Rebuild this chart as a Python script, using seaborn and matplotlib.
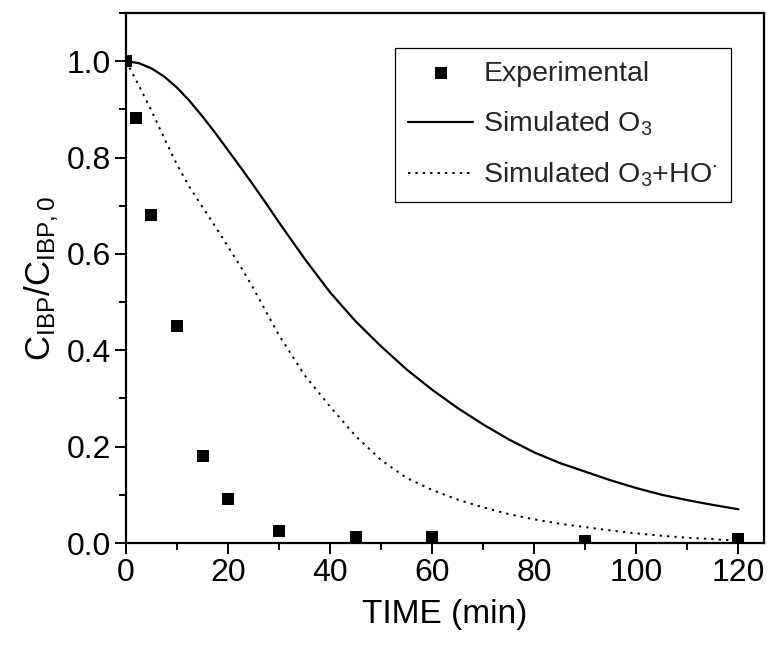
import matplotlib
matplotlib.use("Agg")
import matplotlib.pyplot as plt
from matplotlib.ticker import MultipleLocator
import seaborn as sns
import pandas as pd

# Experimental IBP decay
exp_time = [0, 2, 5, 10, 15, 20, 30, 45, 60, 90, 120]
exp_ratio = [1.0, 0.882, 0.680, 0.450, 0.181, 0.092, 0.024, 0.012, 0.012, 0.004, 0.008]

# Simulated curves
sim_time = [0, 2.5, 5, 7.5, 10, 12.5, 15, 17.5, 20, 22.5, 25, 27.5, 30, 35, 40,
            45, 50, 55, 60, 65, 70, 75, 80, 85, 90, 95, 100, 105, 110, 115, 120]
sim_o3 = [1.0, 0.996, 0.985, 0.968, 0.945, 0.917, 0.885, 0.851, 0.815, 0.779,
          0.742, 0.704, 0.665, 0.590, 0.520, 0.460, 0.408, 0.360, 0.318, 0.280,
          0.246, 0.215, 0.188, 0.166, 0.148, 0.130, 0.114, 0.100, 0.089, 0.079,
          0.070]
sim_o3_ho = [1.0, 0.950, 0.897, 0.840, 0.785, 0.738, 0.697, 0.657, 0.615, 0.573,
             0.528, 0.479, 0.431, 0.348, 0.283, 0.222, 0.172, 0.135, 0.110, 0.090,
             0.074, 0.060, 0.049, 0.040, 0.033, 0.026, 0.020, 0.015, 0.011, 0.008,
             0.005]

x_ticks = [0, 20, 40, 60, 80, 100, 120]
y_ticks = [0.0, 0.2, 0.4, 0.6, 0.8, 1.0]

sns.set_theme(style="ticks")
plt.rcParams["font.family"] = ["Liberation Sans", "DejaVu Sans"]
plt.rcParams["mathtext.fontset"] = "custom"
plt.rcParams["mathtext.rm"] = "Liberation Sans"
plt.rcParams["mathtext.it"] = "Liberation Sans"

exp_df = pd.DataFrame({"t": exp_time, "c": exp_ratio})
sim_df = pd.DataFrame({"t": sim_time, "o3": sim_o3, "o3ho": sim_o3_ho})

fig = plt.figure(figsize=(7.7, 6.49), dpi=100)
ax = fig.add_axes([0.1636, 0.1633, 0.8286, 0.8167])

sns.scatterplot(data=exp_df, x="t", y="c", marker="s", s=80, color="black",
                edgecolor="black", linewidth=0, ax=ax, label="Experimental",
                zorder=3)
sns.lineplot(data=sim_df, x="t", y="o3", color="black", linewidth=1.6, ax=ax,
             label=r"Simulated O$\mathregular{_3}$")
sns.lineplot(data=sim_df, x="t", y="o3ho", color="black", linewidth=1.4,
             linestyle=(0, (1.2, 2.6)), ax=ax,
             label=r"Simulated O$\mathregular{_3}$+HO$\mathregular{^{\cdot}}$")

ax.set_xlim(0, 125)
ax.set_ylim(0, 1.1)
ax.set_xticks(x_ticks)
ax.set_yticks(y_ticks)
ax.set_xticklabels([str(v) for v in x_ticks])
ax.set_yticklabels([f"{v:.1f}" for v in y_ticks])
ax.xaxis.set_minor_locator(MultipleLocator(10))
ax.yaxis.set_minor_locator(MultipleLocator(0.1))
ax.tick_params(axis="both", which="major", direction="out", length=8, width=1.4,
               labelsize=23, color="black", labelcolor="black", pad=3)
ax.tick_params(axis="both", which="minor", direction="out", length=5, width=1.4,
               color="black")
for side in ["top", "right", "left", "bottom"]:
    ax.spines[side].set_visible(True)
    ax.spines[side].set_color("black")
    ax.spines[side].set_linewidth(1.6)

ax.set_xlabel("TIME (min)", fontsize=24, color="black", labelpad=8)
ax.set_ylabel(r"C$\mathregular{_{IBP}}$/C$\mathregular{_{IBP,0}}$", fontsize=25,
              color="black", labelpad=4)

handles, labels = ax.get_legend_handles_labels()
leg = ax.legend(handles, labels, loc="upper right", bbox_to_anchor=(0.948, 0.934),
                fontsize=20.5, frameon=True, fancybox=False, edgecolor="black",
                framealpha=1, borderpad=0.45, labelspacing=0.8,
                handlelength=2.3, handletextpad=0.35, borderaxespad=0)
leg.get_frame().set_linewidth(0.9)

fig.savefig("out.png", dpi=100, facecolor="white")
